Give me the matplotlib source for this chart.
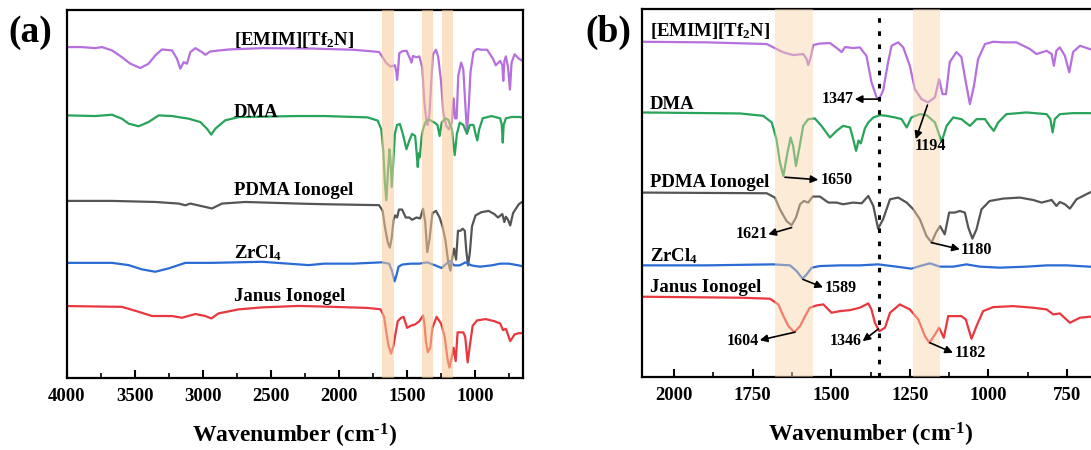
import matplotlib
matplotlib.use("Agg")
import matplotlib.pyplot as plt
from matplotlib.ticker import MultipleLocator

plt.rcParams['font.family'] = ['Liberation Serif', 'DejaVu Serif']
plt.rcParams['font.weight'] = 'bold'
plt.rcParams['mathtext.default'] = 'regular'

# FTIR spectra: wavenumber (cm-1) and absorption dip depth (a.u., 0 = baseline)
emim_wn = [4000, 3890, 3792, 3743, 3669, 3596, 3534, 3461, 3400, 3351, 3302, 3228, 3191, 3167, 3142,
           3118, 3093, 3056, 3007, 2983, 2946, 2811, 2566, 2199, 2108, 1896, 1705, 1684, 1652, 1621,
           1589, 1578, 1573, 1565, 1557, 1536, 1504, 1478, 1467, 1456, 1430, 1409, 1388, 1372, 1356,
           1348, 1335, 1319, 1308, 1287, 1271, 1250, 1234, 1213, 1192, 1170, 1157, 1146, 1135, 1123,
           1102, 1086, 1072, 1059, 1046, 1033, 1011, 985, 953, 911, 868, 847, 815, 799, 792,
           784, 773, 757, 743, 731, 709, 678, 650]
emim_dip = [-1.4, -1.4, -0.6, -1.4, 1.1, 6.2, 11.1, 14.4, 11.1, 4.9, 0.4, 1.1, 7.4, 14.9, 9.9,
            11.1, 2.4, -0.6, 2.4, 4.4, 1.9, 0.4, -0.6, -0.3, 0, 0.6, 2.3, 5.6, 10.6, 13.3,
            12.3, 17.3, 23.3, 15.3, 3.3, 1.8, 1.3, 7.3, 10.3, 5.3, 6.3, 5.6, 14, 40.3, 55.3,
            57.3, 49, 20.3, 4, 0.6, 5.6, 24, 47.3, 57.3, 60.6, 55.3, 37.3, 52.3, 52.3, 20.3,
            10.3, 15.3, 40.3, 62.3, 44, 17.3, 2.3, 0, 0.6, 0.6, 7.3, 12.3, 9, 12.3, 24,
            9, 5.6, 14, 30.6, 10.3, 4, 7.3, 9]

dma_wn = [4000, 3792, 3669, 3596, 3547, 3473, 3400, 3326, 3228, 3105, 3020, 2971, 2939, 2909, 2836,
          2738, 2321, 2108, 1790, 1716, 1689, 1674, 1663, 1652, 1639, 1629, 1621, 1612, 1602, 1589,
          1573, 1552, 1531, 1504, 1483, 1462, 1440, 1430, 1421, 1413, 1406, 1393, 1382, 1366, 1345,
          1324, 1297, 1276, 1260, 1245, 1218, 1197, 1170, 1149, 1133, 1112, 1086, 1059, 1038, 1011,
          996, 983, 969, 943, 879, 815, 803, 796, 789, 773, 731, 678, 650]
dma_dip = [-0.5, 0, -1, 2, 5.7, 7.7, 4.5, -0.5, 0, 2, 4.5, 9.5, 14, 9.5, 3.2,
           0.8, 0, 0, 1, 3.4, 10, 26.7, 50, 63.4, 40, 25, 33.4, 53.4, 36.7, 13.4,
           6.7, 6, 13.4, 25, 18.4, 13.4, 15, 26.7, 38.4, 28, 31, 16, 10, 5, 2.7,
           3.4, 5, 6.7, 15, 5, 1.7, 2.7, 10, 29.4, 13.4, 5, 6.7, 13.4, 6.7, 6.7,
           13.4, 18.4, 10, 1.7, 0, 1.7, 6.7, 20, 6.7, 1.7, 0.7, 0.7, 1]

pdma_wn = [4000, 3669, 3351, 3179, 3130, 3093, 3007, 2934, 2860, 2689, 2300, 2108, 1705, 1679, 1663,
           1642, 1626, 1612, 1599, 1587, 1573, 1559, 1536, 1509, 1483, 1462, 1430, 1403, 1382, 1366,
           1351, 1335, 1313, 1287, 1260, 1239, 1218, 1197, 1181, 1167, 1154, 1139, 1125, 1107, 1091,
           1075, 1064, 1051, 1038, 1022, 996, 953, 900, 858, 831, 799, 784, 773, 757, 741,
           720, 678, 650]
pdma_dip = [-2.5, -2.5, -1.7, -0.5, 0.8, -0.5, 1.5, 3.2, -0.5, -1.7, -0.5, 0, 0.7, 5, 16.7,
            28.4, 32.7, 25, 11.7, 8.4, 10, 4, 4, 10, 10, 11.7, 10, 10.7, 3.4, 13.4,
            36, 26.7, 6.7, 5, 10, 16.7, 26.7, 43.4, 50, 40, 33.4, 41.7, 20, 20, 18.4,
            20, 35, 46, 36.7, 16.7, 8.4, 6, 5, 7.4, 10, 7.4, 13.4, 9.4, 11.7, 16,
            6.7, 0, -2]

zrcl_wn = [4000, 3669, 3547, 3449, 3351, 3253, 3130, 2934, 2566, 2223, 2108, 1896, 1684, 1631, 1610,
           1591, 1578, 1562, 1536, 1472, 1409, 1351, 1292, 1245, 1218, 1186, 1154, 1112, 1070, 1027,
           964, 879, 815, 752, 678, 650]
zrcl_dip = [-0.6, -0.6, 1.1, 4.3, 6.1, 3.6, -0.6, -0.6, -1.4, 1.1, 0, 0, -1, 0, 5.7,
            13.3, 9, 2.3, 0.7, 0, 0, -1, 1.3, 3.3, 0.7, -2, 1.3, 1.3, -1, 1.3,
            2.3, 1.3, 0, 0, 1.3, 2]

janus_wn = [4000, 3596, 3473, 3375, 3228, 3155, 3056, 2983, 2939, 2885, 2738, 2566, 2300, 2108, 1790,
            1695, 1668, 1652, 1636, 1617, 1599, 1583, 1568, 1546, 1525, 1499, 1472, 1440, 1409, 1382,
            1372, 1361, 1347, 1329, 1313, 1282, 1250, 1223, 1202, 1188, 1170, 1157, 1142, 1128, 1107,
            1086, 1072, 1054, 1038, 1017, 985, 921, 858, 815, 794, 773, 741, 709, 678, 650]
janus_dip = [-0.4, 0.2, 3.9, 7.1, 7.1, 8.4, 5.6, 7.1, 8.9, 5.1, 2.1, 0.6, -0.5, 0, 1,
             2, 7.7, 19.4, 29.4, 35.4, 29.4, 19.4, 11, 8.7, 7.7, 16, 14.4, 13.4, 11, 6.7,
             12.7, 26, 34.4, 31, 16, 7.7, 12.7, 22.7, 39.4, 46, 37.7, 31, 41, 19.4, 19.4,
             19.4, 22.7, 42, 29.4, 14.4, 10.4, 9.4, 11, 12.7, 17.7, 16.7, 26, 21, 20, 20]

names = ['[EMIM][Tf$_2$N]', 'DMA', 'PDMA Ionogel', 'ZrCl$_4$', 'Janus Ionogel']
colors = ['#b570dd', '#27a35a', '#555555', '#2a6bd4', '#e8383f']
spectra = [(emim_wn, emim_dip), (dma_wn, dma_dip), (pdma_wn, pdma_dip),
           (zrcl_wn, zrcl_dip), (janus_wn, janus_dip)]

# vertical stacking offsets for each panel
offsets_a = [329.5, 262.3, 174, 114.5, 71.5]
offsets_b = [334.8, 264.2, 184.2, 111.5, 80.2]
label_y_a = [333, 261.5, 183, 120, 77]
label_y_b = [340.5, 267.5, 189.5, 115.8, 84.5]

bands_a = [(1687, 1597), (1390, 1312), (1244, 1163)]
bands_b = [(1680, 1557), (1240, 1155)]

# peak annotations in panel (b): text, tail (peak), head, text pos, alignment
peaks = [
    ('1347', (1352, 277.5), (1425, 277.5), (1428, 273.5), 'right'),
    ('1194', (1194, 271.5), (1231, 237.5), (1233, 226.5), 'left'),
    ('1650', (1647, 199.5), (1541, 197), (1533, 193), 'left'),
    ('1621', (1626, 149.2), (1700, 142.5), (1700, 139), 'right'),
    ('1589', (1590, 97.5), (1526, 89.5), (1520, 85), 'left'),
    ('1604', (1615, 44.8), (1727, 36.8), (1730, 32), 'right'),
    ('1346', (1350, 48), (1400, 35.8), (1402, 32), 'right'),
    ('1180', (1181, 134.2), (1091, 127.5), (1087, 123), 'left'),
    ('1182', (1186, 34.2), (1113, 24.2), (1107, 20), 'left'),
]

fig = plt.figure(figsize=(10.91, 4.5), dpi=100)
ax1 = fig.add_axes([0.0614, 0.16, 0.4176, 0.8167])
ax2 = fig.add_axes([0.5889, 0.1622, 0.418, 0.8189])

for ax, offs, scale in [(ax1, offsets_a, 1.33), (ax2, offsets_b, 1.0)]:
    for (wn, dip), off, c in zip(spectra, offs, colors):
        ax.plot(wn, [off - scale * d for d in dip], color=c, lw=1.6, zorder=2)
    ax.set_ylim(0, 368)
    ax.set_yticks([])
    for s in ax.spines.values():
        s.set_linewidth(1.6)
    ax.tick_params(axis='x', which='major', direction='in', length=6, width=1.5,
                   labelsize=13.5, pad=7)
    ax.tick_params(axis='x', which='minor', direction='in', length=3.5, width=1.2)
    ax.set_xlabel('Wavenumber (cm$^{\u2010 1}$)', fontsize=17, fontweight='bold', labelpad=12)

ax1.set_xlim(4000, 650)
ax1.xaxis.set_major_locator(MultipleLocator(500))
ax1.xaxis.set_minor_locator(MultipleLocator(250))
for lo, hi in bands_a:
    ax1.axvspan(lo, hi, color='#f8cb98', alpha=0.55, lw=0, zorder=3)
for n, y in zip(names, label_y_a):
    ax1.text(0.367, y, n, transform=ax1.get_yaxis_transform(), fontsize=13.5,
             fontweight='bold', va='baseline', zorder=4)

ax2.set_xlim(2100, 650)
ax2.xaxis.set_major_locator(MultipleLocator(250))
ax2.xaxis.set_minor_locator(MultipleLocator(125))
for lo, hi in bands_b:
    ax2.axvspan(lo, hi, color='#f9d3a8', alpha=0.45, lw=0, zorder=3)
ax2.axvline(1347, color='black', lw=2.2, ls=(0, (1.5, 2.8)), zorder=4)
for n, y in zip(names, label_y_b):
    ax2.text(0.016, y, n, transform=ax2.get_yaxis_transform(), fontsize=13.5,
             fontweight='bold', va='baseline', zorder=4)
for txt, tail, head, tpos, ha in peaks:
    ax2.annotate('', xy=head, xytext=tail,
                 arrowprops=dict(arrowstyle='-|>', color='black', lw=1.2,
                                 mutation_scale=11, shrinkA=0, shrinkB=0), zorder=5)
    ax2.text(tpos[0], tpos[1], txt, fontsize=11.5, fontweight='bold', ha=ha,
             va='baseline', zorder=5)

fig.text(0.028, 0.928, '(a)', fontsize=27, fontweight='bold', ha='center', va='center')
fig.text(0.558, 0.928, '(b)', fontsize=27, fontweight='bold', ha='center', va='center')

fig.savefig('out.png', dpi=100)
